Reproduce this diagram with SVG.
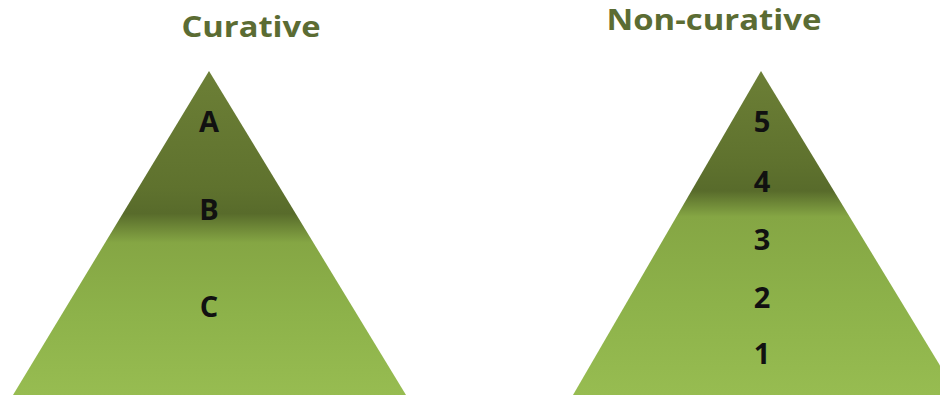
<svg xmlns="http://www.w3.org/2000/svg" width="940" height="396" viewBox="0 0 940 396">
<defs>
<linearGradient id="gl" gradientUnits="userSpaceOnUse" x1="0" y1="71" x2="0" y2="395">
<stop offset="0" stop-color="#6c7f36"/>
<stop offset="0.36" stop-color="#5f722e"/>
<stop offset="0.44" stop-color="#586b2b"/>
<stop offset="0.53" stop-color="#85a644"/>
<stop offset="0.75" stop-color="#8db24a"/>
<stop offset="1" stop-color="#97bc51"/>
</linearGradient>
<linearGradient id="gr" gradientUnits="userSpaceOnUse" x1="0" y1="71" x2="0" y2="395">
<stop offset="0" stop-color="#6c7f36"/>
<stop offset="0.28" stop-color="#5f722e"/>
<stop offset="0.37" stop-color="#586b2b"/>
<stop offset="0.45" stop-color="#85a644"/>
<stop offset="0.72" stop-color="#8db24a"/>
<stop offset="1" stop-color="#97bc51"/>
</linearGradient>
<style>
.title{font-family:"Open Sans","Liberation Sans",sans-serif;font-weight:bold;font-size:28px;fill:#5b6c33;text-anchor:middle}
.lbl{font-family:"Open Sans","Liberation Sans",sans-serif;font-weight:bold;font-size:29px;fill:#111;text-anchor:middle}
</style>
</defs>
<rect width="940" height="396" fill="#ffffff"/>
<g id="curative">
<text class="title" x="251" y="37" textLength="139" lengthAdjust="spacingAndGlyphs">Curative</text>
<polygon points="209,71 406,395 13,395" fill="url(#gl)"/>
<text class="lbl" x="209" y="132">A</text>
<text class="lbl" x="209" y="220">B</text>
<text class="lbl" x="209" y="317">C</text>
</g>
<g id="non-curative">
<text class="title" x="714" y="30" textLength="215" lengthAdjust="spacingAndGlyphs">Non-curative</text>
<polygon points="761,71 958,395 573,395" fill="url(#gr)"/>
<text class="lbl" x="762" y="132">5</text>
<text class="lbl" x="762" y="192">4</text>
<text class="lbl" x="762" y="250">3</text>
<text class="lbl" x="762" y="308">2</text>
<text class="lbl" x="762" y="364">1</text>
</g>
<g id="connectors"/>
</svg>
